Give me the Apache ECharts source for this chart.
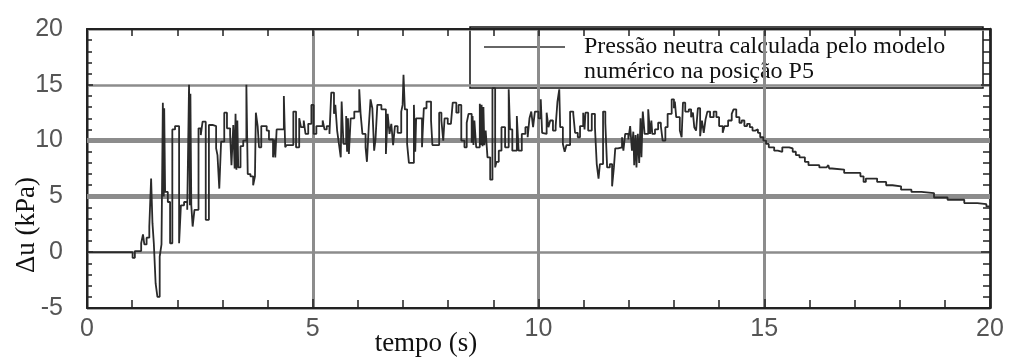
<!DOCTYPE html>
<html>
<head>
<meta charset="utf-8">
<script src="https://cdn.jsdelivr.net/npm/echarts@6/dist/echarts.min.js"></script>
<style>
  html, body { margin: 0; padding: 0; background: #fff; }
  #chart { width: 1010px; height: 360px; }
</style>
</head>
<body>
<div id="chart"></div>
<script>
// tempo (s) e Δu (kPa), traçado em degraus
const tempo = [
  0, 1.01, 1.06, 1.2, 1.24, 1.27, 1.32, 1.38, 1.42, 1.45, 1.48, 1.52, 1.56, 1.61, 1.65, 1.68, 1.7, 1.71, 1.73, 1.79,
  1.84, 1.89, 1.95, 2.04, 2.08, 2.15, 2.22, 2.26, 2.28, 2.29, 2.31, 2.34, 2.38, 2.47, 2.52, 2.56, 2.63, 2.7, 2.78, 2.86,
  2.89, 2.93, 2.97, 3.04, 3.1, 3.17, 3.2, 3.24, 3.27, 3.29, 3.31, 3.33, 3.35, 3.4, 3.46, 3.53, 3.56, 3.62, 3.68, 3.72,
  3.74, 3.78, 3.81, 3.86, 3.98, 4.03, 4.12, 4.15, 4.17, 4.2, 4.36, 4.39, 4.42, 4.57, 4.63, 4.7, 4.74, 4.8, 4.84, 4.9,
  4.97, 5.02, 5.08, 5.22, 5.26, 5.31, 5.37, 5.41, 5.47, 5.5, 5.54, 5.58, 5.62, 5.64, 5.68, 5.74, 5.76, 5.78, 5.8, 5.84,
  5.92, 6.03, 6.06, 6.1, 6.17, 6.2, 6.24, 6.28, 6.32, 6.36, 6.39, 6.43, 6.52, 6.62, 6.66, 6.7, 6.74, 6.78, 6.82, 6.88,
  6.96, 6.99, 7.01, 7.04, 7.09, 7.13, 7.24, 7.27, 7.29, 7.36, 7.42, 7.46, 7.52, 7.62, 7.65, 7.8, 7.85, 7.89, 7.92, 7.99,
  8.06, 8.1, 8.18, 8.23, 8.29, 8.36, 8.41, 8.45, 8.52, 8.54, 8.56, 8.58, 8.62, 8.7, 8.72, 8.74, 8.76, 8.78, 8.8, 8.83,
  8.87, 8.93, 8.98, 9.04, 9.07, 9.12, 9.18, 9.26, 9.34, 9.37, 9.42, 9.52, 9.56, 9.63, 9.71, 9.76, 9.8, 9.84, 9.88, 9.92,
  10.0, 10.05, 10.08, 10.12, 10.18, 10.22, 10.26, 10.32, 10.38, 10.42, 10.46, 10.48, 10.54, 10.58, 10.62, 10.7, 10.77, 10.81, 10.87, 10.92,
  10.99, 11.02, 11.04, 11.1, 11.18, 11.25, 11.29, 11.33, 11.36, 11.43, 11.48, 11.52, 11.58, 11.63, 11.67, 11.7, 11.76, 11.85, 11.88, 11.92,
  11.99, 12.03, 12.07, 12.1, 12.12, 12.15, 12.17, 12.2, 12.23, 12.26, 12.28, 12.31, 12.35, 12.43, 12.47, 12.5, 12.52, 12.58, 12.65, 12.71,
  12.75, 12.81, 12.86, 12.95, 13.0, 13.02, 13.05, 13.13, 13.17, 13.2, 13.25, 13.33, 13.38, 13.42, 13.45, 13.49, 13.53, 13.58, 13.62, 13.66,
  13.7, 13.74, 13.8, 13.88, 13.94, 14.0, 14.08, 14.12, 14.2, 14.28, 14.32, 14.38, 14.45, 14.5, 14.56, 14.62, 14.68, 14.74, 14.8, 14.86,
  14.91, 14.98, 15.04, 15.1, 15.22, 15.3, 15.4, 15.55, 15.63, 15.7, 15.78, 15.9, 15.98, 16.05, 16.22, 16.38, 16.42, 16.44, 16.5, 16.77,
  17.13, 17.2, 17.25, 17.5, 17.7, 17.84, 18.03, 18.26, 18.48, 18.76, 19.06, 19.43, 19.72, 19.92, 20
]
const du = [
  0, -0.5, 0.1, 0.8, 1.6, 0.7, 1.3, 2.3, 6.6, 2.6, 0.8, -2.8, -4.0, -0.4, 0.7, 13.4, 5.0, 12.9, 5.4, 4.5,
  0.8, 11.0, 11.3, 0.8, 4.2, 4.5, 3.8, 15.0, 4.2, 14.2, 4.2, 2.3, 3.8, 11.1, 10.5, 11.7, 2.9, 11.4, 11.3, 9.3,
  8.7, 5.7, 9.9, 12.5, 11.1, 10.5, 7.8, 11.4, 7.5, 12.4, 7.4, 11.8, 7.6, 9.5, 10.0, 15.0, 7.0, 6.8, 6.0, 6.8,
  12.5, 11.3, 9.4, 11.3, 10.9, 10.1, 8.5, 10.1, 8.5, 11.0, 14.0, 9.4, 9.6, 12.6, 9.4, 12.0, 11.2, 11.8, 10.6, 11.5,
  13.2, 10.6, 11.3, 11.8, 11.0, 11.3, 10.6, 14.3, 12.4, 13.2, 10.9, 9.7, 8.5, 13.5, 9.7, 12.2, 9.0, 12.0, 8.8, 12.0,
  12.6, 14.6, 12.4, 10.6, 9.4, 8.1, 11.2, 13.7, 12.9, 9.1, 10.1, 13.2, 12.8, 8.8, 12.4, 10.6, 11.5, 9.6, 11.3, 10.7,
  12.6, 13.2, 15.9, 12.8, 9.7, 8.0, 13.2, 9.0, 12.0, 12.0, 9.4, 12.9, 13.5, 11.8, 9.6, 12.5, 11.8, 10.0, 12.0, 11.5,
  11.6, 13.4, 12.5, 13.2, 10.0, 9.4, 11.6, 12.4, 9.8, 12.2, 9.6, 11.8, 9.4, 13.3, 9.6, 13.2, 9.5, 13.0, 9.6, 10.9,
  8.5, 6.5, 14.7, 7.6, 8.1, 9.1, 11.2, 9.4, 14.6, 11.0, 9.1, 12.2, 9.1, 10.6, 11.2, 10.3, 12.0, 12.6, 11.2, 12.6,
  12.0, 13.7, 10.7, 10.6, 12.5, 11.2, 11.8, 10.9, 11.3, 13.5, 14.6, 11.2, 9.7, 9.0, 9.6, 12.6, 12.4, 10.7, 10.3, 11.3,
  12.5, 11.0, 12.5, 10.9, 12.4, 11.2, 7.9, 6.6, 7.9, 12.6, 11.6, 7.6, 7.9, 5.9, 7.6, 9.3, 9.4, 10.3, 9.1, 10.6,
  10.1, 11.3, 9.1, 10.8, 7.8, 10.5, 7.6, 10.6, 8.0, 12.0, 8.5, 12.6, 10.6, 12.8, 10.6, 11.8, 10.6, 11.0, 11.6, 11.3,
  10.0, 11.2, 12.4, 13.7, 12.9, 13.5, 12.1, 10.9, 10.3, 13.4, 12.6, 12.8, 12.1, 12.5, 11.2, 10.9, 12.9, 10.4, 11.8, 10.7,
  11.9, 12.6, 12.1, 12.6, 12.1, 11.3, 10.7, 11.3, 11.8, 12.4, 12.8, 12.1, 11.6, 11.8, 11.3, 11.5, 11.2, 10.9, 11.0, 10.7,
  10.3, 10.0, 9.7, 9.4, 9.1, 9.0, 9.4, 9.3, 9.0, 8.7, 8.5, 8.1, 7.8, 7.8, 7.6, 7.5, 7.8, 7.5, 7.4, 7.1,
  6.8, 6.3, 6.6, 6.3, 6.0, 5.9, 5.6, 5.4, 5.3, 4.9, 4.7, 4.4, 4.3, 4.1, 4.1
]
const xTicks = [0, 5, 10, 15, 20]
const yTicks = [-5, 0, 5, 10, 15, 20]
const thickLines = [5, 10]
const legendText = ['Pressão neutra calculada pelo modelo', 'numérico na posição P5']

const chart = echarts.init(document.getElementById('chart'), null, { renderer: 'canvas' })

const gridColor = '#8c8c8c'
const axisColor = '#222'
const sansFont = '"Liberation Sans", Arial, sans-serif'
const serifFont = '"Liberation Serif", "Times New Roman", serif'

const option = {
  animation: false,
  backgroundColor: '#fff',
  grid: { left: 87, right: 20, top: 29, bottom: 52 },
  xAxis: [
    {
      type: 'value',
      min: xTicks[0],
      max: xTicks[xTicks.length - 1],
      interval: 5,
      axisLine: { onZero: false, lineStyle: { color: axisColor, width: 2 } },
      axisTick: { inside: true, length: 9, lineStyle: { color: axisColor, width: 1.5 } },
      minorTick: { show: true, splitNumber: 5, length: 8, lineStyle: { color: axisColor, width: 1.5 } },
      splitLine: { show: true, lineStyle: { color: gridColor, width: 3 } },
      axisLabel: { fontSize: 25, color: '#555', fontFamily: sansFont, margin: 9 }
    },
    {
      type: 'value',
      position: 'top',
      min: xTicks[0],
      max: xTicks[xTicks.length - 1],
      interval: 5,
      axisLine: { onZero: false, lineStyle: { color: axisColor, width: 2 } },
      axisTick: { inside: true, length: 7, lineStyle: { color: axisColor, width: 1.5 } },
      minorTick: { show: true, splitNumber: 5, length: 7, lineStyle: { color: axisColor, width: 1.5 } },
      splitLine: { show: false },
      axisLabel: { show: false }
    }
  ],
  yAxis: [
    {
      type: 'value',
      min: yTicks[0],
      max: yTicks[yTicks.length - 1],
      interval: 5,
      axisLine: { show: true, onZero: false, lineStyle: { color: axisColor, width: 2 } },
      axisTick: { show: true, inside: true, length: 6, lineStyle: { color: axisColor, width: 1.5 } },
      minorTick: { show: true, splitNumber: 5, length: 5, lineStyle: { color: axisColor, width: 1.5 } },
      splitLine: { show: true, lineStyle: { color: gridColor, width: 2.5 } },
      axisLabel: { fontSize: 25, color: '#555', fontFamily: sansFont, margin: 24 }
    },
    {
      type: 'value',
      position: 'right',
      min: yTicks[0],
      max: yTicks[yTicks.length - 1],
      interval: 5,
      axisLine: { show: true, onZero: false, lineStyle: { color: axisColor, width: 2.5 } },
      axisTick: { show: true, inside: true, length: 9, lineStyle: { color: axisColor, width: 1.5 } },
      minorTick: { show: true, splitNumber: 5, length: 7, lineStyle: { color: axisColor, width: 1.5 } },
      splitLine: { show: false },
      axisLabel: { show: false }
    }
  ],
  series: [
    {
      // linhas de grade grossas em 5 e 10 kPa
      type: 'line',
      data: [],
      z: 1,
      silent: true,
      markLine: {
        silent: true,
        symbol: 'none',
        label: { show: false },
        lineStyle: { color: gridColor, width: 5, type: 'solid' },
        data: thickLines.map((v) => ({ yAxis: v }))
      }
    },
    {
      name: 'P5',
      type: 'line',
      step: 'end',
      z: 5,
      showSymbol: false,
      symbol: 'none',
      lineStyle: { color: '#2a2a2a', width: 1.8 },
      data: tempo.map((t, i) => [t, du[i]])
    }
  ],
  graphic: [
    {
      type: 'group',
      z: 100,
      children: [
        {
          type: 'rect',
          shape: { x: 470, y: 27, width: 513, height: 61 },
          style: { fill: '#fff', stroke: '#111', lineWidth: 1.5 }
        },
        {
          type: 'line',
          shape: { x1: 484, y1: 47, x2: 565, y2: 47 },
          style: { stroke: '#333', lineWidth: 1.5 }
        },
        {
          type: 'text',
          x: 584,
          y: 47,
          style: { text: legendText[0], font: '24px ' + serifFont, fill: '#111', textVerticalAlign: 'middle' }
        },
        {
          type: 'text',
          x: 584,
          y: 72,
          style: { text: legendText[1], font: '24px ' + serifFont, fill: '#111', textVerticalAlign: 'middle' }
        }
      ]
    },
    {
      type: 'text',
      x: 27,
      y: 225,
      rotation: Math.PI / 2,
      style: { text: 'Δu (kPa)', font: '27px ' + serifFont, fill: '#111', textAlign: 'center', textVerticalAlign: 'middle' }
    },
    {
      type: 'text',
      x: 426,
      y: 344,
      style: { text: 'tempo (s)', font: '27px ' + serifFont, fill: '#111', textAlign: 'center', textVerticalAlign: 'middle' }
    }
  ]
}

chart.setOption(option)
</script>
</body>
</html>
